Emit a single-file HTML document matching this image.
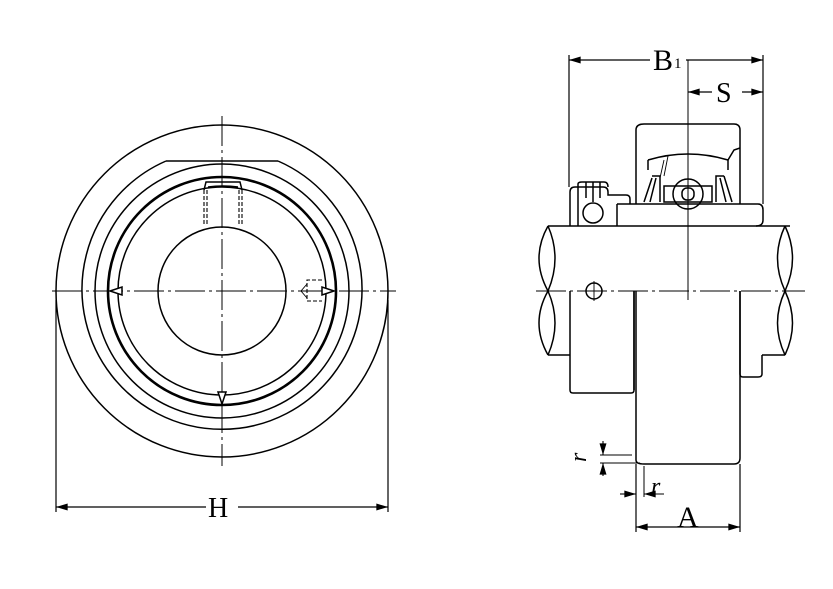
<!DOCTYPE html>
<html><head><meta charset="utf-8"><style>
html,body{margin:0;padding:0;background:#fff;}
svg{display:block;}
text{font-family:"Liberation Serif",serif;fill:#000;}
</style></head><body>
<svg width="833" height="589" viewBox="0 0 833 589" xmlns="http://www.w3.org/2000/svg">
<defs>
<marker id="a" viewBox="0 0 10 6" refX="10" refY="3" markerWidth="12" markerHeight="7" orient="auto-start-reverse" markerUnits="userSpaceOnUse"><path d="M0,0L10,3L0,6z" fill="#000"/></marker>
</defs>
<g fill="none" stroke="#000" stroke-width="1.5">
<!-- LEFT VIEW -->
<circle cx="222" cy="291" r="166"/>
<path d="M166,161 L278,161"/>
<path d="M166,161 A140,140 0 1,0 278,161" />
<circle cx="222" cy="291" r="127"/>
<circle cx="222" cy="291" r="114" stroke-width="2.6"/>
<circle cx="222" cy="291" r="104"/>
<circle cx="222" cy="291" r="64"/>
<path d="M204,190 L206,182 L240,182 L242,190"/>
<path d="M208,187 Q223,185 238,187"/>
<path d="M204,190 V225 M207,190 V225 M239,190 V225 M242,190 V225" stroke-dasharray="4,2" stroke-width="1.1"/>
<path d="M322,280 H307 V301 H322" stroke-dasharray="4,2" stroke-width="1.1"/>
<path d="M307,284 L301,291 L307,298" stroke-width="0.9"/>
<path d="M52,291 H396" stroke-width="1" stroke-dasharray="30,4,3,4"/>
<path d="M222,116 V466" stroke-width="1" stroke-dasharray="30,4,3,4"/>
<path d="M110,291 L122,287 L122,295 Z" fill="#fff"/>
<path d="M334,291 L322,287 L322,295 Z" fill="#fff"/>
<path d="M222,404 L218,392 L226,392 Z" fill="#fff"/>
<path d="M56,300 V512 M388,300 V512" stroke-width="1.2"/>
<path d="M56,507 H206 M238,507 H388" stroke-width="1.2" marker-start="url(#a)" marker-end="url(#a)"/>
<!-- RIGHT VIEW -->
<path d="M548,226 H790 M548,355 H570 M762,355 H785"/>
<path d="M548,226 Q530,258 548,291 Q530,323 548,355"/>
<path d="M548,226 Q562,258 548,291 Q562,323 548,355"/>
<path d="M785,226 Q800,258 785,291 Q800,323 785,355"/>
<path d="M785,226 Q770,258 785,291 Q770,323 785,355"/>
<path d="M570,291 V390 Q570,393 573,393 H631 Q634,393 634,390 V291"/>
<circle cx="594" cy="291" r="8"/>
<path d="M594,281 V301" stroke-width="0.9"/>
<path d="M636,291 V460 Q636,464 644,464 H734 Q740,464 740,458 V291"/>
<path d="M636,204 V130 Q636,124 644,124 H734 Q740,124 740,130 V204"/>
<path d="M740,291 V374 Q740,377 743,377 H758 Q762,377 762,374 V355"/>
<path d="M634,291 V390" />
<path d="M570,226 V192 Q570,187 575,187 H603 Q608,187 608,192 V195 H626 Q630,195 630,199 V204"/>
<path d="M578,226 V184 Q578,182 582,182 H604 Q608,182 608,187"/>
<circle cx="593" cy="213" r="10"/>
<path d="M586,182 V198 M593,182 V202 M600,182 V198"/>
<path d="M617,204 H758 Q763,204 763,210 V220 Q763,226 756,226"/>
<path d="M617,204 V226"/>
<path d="M648,160 Q688,148 728,160 L734,150 L740,148"/>
<path d="M648,160 V170 M728,160 V170"/>
<path d="M664,160 L660,178 M668,156 L664,176" stroke-width="0.9"/>
<circle cx="688" cy="194" r="15"/>
<path d="M664,186 H712 V202 H664 Z"/>
<rect x="682" y="188" width="12" height="12" rx="5"/>
<path d="M652,178 L644,202 M656,178 L650,202 M652,176 H660 V202"/>
<path d="M724,176 L732,202 M720,178 L726,202 M724,176 H716 V202"/>
<path d="M688,60 V300" stroke-width="1"/>
<path d="M536,291 H805" stroke-width="1" stroke-dasharray="30,4,3,4"/>
<path d="M569,55 V187 M763,55 V204" stroke-width="1.2"/>
<path d="M569,60 H650 M686,60 H763" stroke-width="1.2" marker-start="url(#a)" marker-end="url(#a)"/>
<path d="M688,92 H712 M742,92 H763" stroke-width="1.2" marker-start="url(#a)" marker-end="url(#a)"/>
<path d="M636,464 V532 M740,464 V532" stroke-width="1.2"/>
<path d="M636,527 H740" stroke-width="1.2" marker-start="url(#a)" marker-end="url(#a)"/>
<path d="M600,455 H632 M600,463 H640" stroke-width="1.1"/>
<path d="M603,441 V455" stroke-width="1.1" marker-end="url(#a)"/>
<path d="M603,476 V463" stroke-width="1.1" marker-end="url(#a)"/>
<path d="M644,466 V497" stroke-width="1"/>
<path d="M620,494 H636" stroke-width="1.1" marker-end="url(#a)"/>
<path d="M664,494 H644" stroke-width="1.1" marker-end="url(#a)"/>
</g>
<text x="653" y="70" font-size="30">B</text><text x="674" y="68" font-size="15">1</text>
<text x="716" y="102" font-size="28">S</text>
<text x="208" y="517" font-size="28">H</text>
<text x="677" y="527" font-size="30">A</text>
<text x="651" y="494" font-size="24" font-style="italic">r</text>
<text x="0" y="0" font-size="24" font-style="italic" transform="translate(586,462) rotate(-90)">r</text>
</svg>
</body></html>
